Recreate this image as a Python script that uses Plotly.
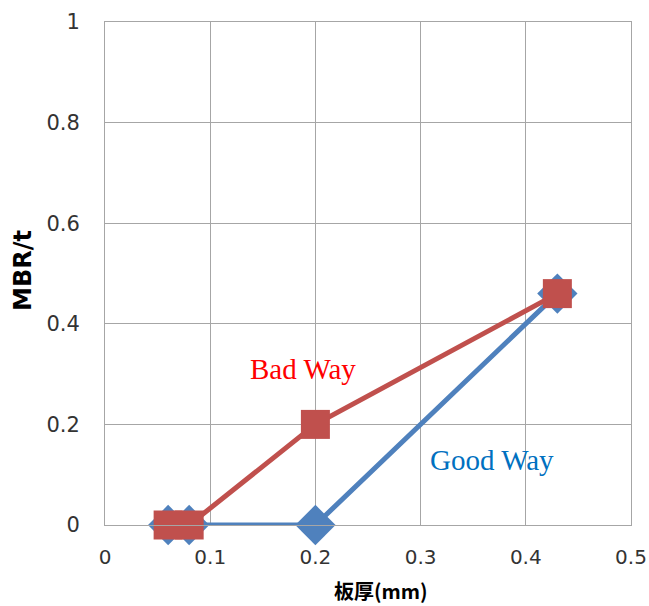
import plotly.graph_objects as go

# Sheet thickness (mm) and MBR/t for each bending direction
thickness = [0.06, 0.08, 0.2, 0.43]
good_way = [0, 0, 0, 0.46]
bad_way = [0, 0, 0.2, 0.46]

x_ticks = [0, 0.1, 0.2, 0.3, 0.4, 0.5]
y_ticks = [0, 0.2, 0.4, 0.6, 0.8, 1]

fig = go.Figure()
fig.add_trace(go.Scatter(
    x=thickness, y=good_way, mode="lines+markers", name="Good Way",
    line=dict(color="#4F81BD", width=5),
    marker=dict(symbol="diamond", size=31, color="#4F81BD"),
    cliponaxis=False,
))
fig.add_trace(go.Scatter(
    x=thickness, y=bad_way, mode="lines+markers", name="Bad Way",
    line=dict(color="#C0504D", width=5),
    marker=dict(symbol="square", size=29, color="#C0504D"),
    cliponaxis=False,
))

# Series labels placed inside the plot
fig.add_annotation(x=0.188, y=0.31, text="Bad Way", showarrow=False,
                   xanchor="center", yanchor="middle",
                   font=dict(family="Liberation Serif", size=29, color="#FF0000"))
fig.add_annotation(x=0.368, y=0.129, text="Good Way", showarrow=False,
                   xanchor="center", yanchor="middle",
                   font=dict(family="Liberation Serif", size=29, color="#0070C0"))

# Axis titles
fig.add_annotation(xref="paper", yref="paper", x=0.525, y=-0.131,
                   xanchor="center", yanchor="middle",
                   text="<b>板厚(mm)</b>", showarrow=False,
                   font=dict(family="Noto Sans CJK JP", size=20, color="#000000"))
fig.add_annotation(xref="paper", yref="paper", x=-0.156, y=0.507,
                   xanchor="center", yanchor="middle",
                   text="<b>MBR/t</b>", showarrow=False, textangle=-90,
                   font=dict(family="DejaVu Sans", size=24, color="#000000"))

axis_common = dict(
    showgrid=True, gridcolor="#A6A6A6", gridwidth=1,
    showline=True, linecolor="#A6A6A6", linewidth=1, mirror=True,
    zeroline=False, automargin=False,
    ticks="outside", tickcolor="rgba(0,0,0,0)",
)

fig.update_xaxes(range=[0, 0.5], tickvals=x_ticks, ticktext=[f"{v:g}" for v in x_ticks],
                 tickfont=dict(family="DejaVu Sans", size=20, color="#333333"),
                 ticklen=14, **axis_common)
fig.update_yaxes(range=[0, 1], tickvals=y_ticks, ticktext=[f"{v:g}" for v in y_ticks],
                 tickfont=dict(family="DejaVu Sans", size=21, color="#333333"),
                 ticklen=20, **axis_common)

fig.update_layout(
    width=649, height=606,
    margin=dict(l=105, r=18, t=22, b=81),
    plot_bgcolor="white", paper_bgcolor="white",
    showlegend=False,
)

fig.write_html("out.html")
